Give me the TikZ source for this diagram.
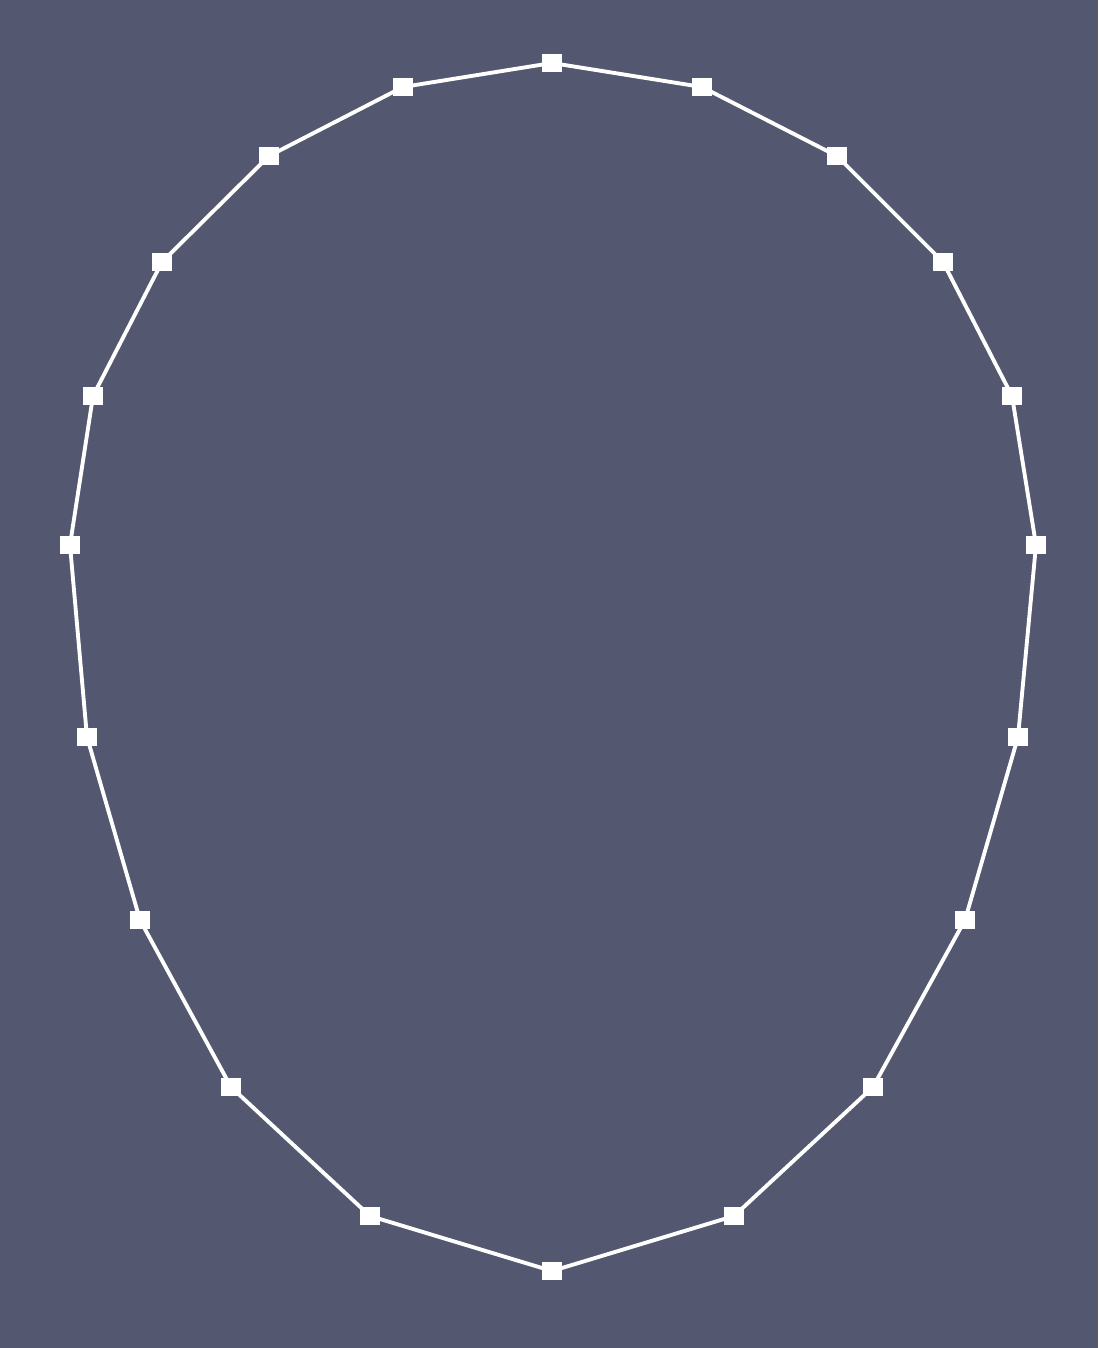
\documentclass[tikz,border=0pt]{standalone}
\definecolor{slatebg}{HTML}{535870}
\tikzset{
  vertex/.style={fill=white, draw=none, minimum width=0.4cm, minimum height=0.36cm, inner sep=0pt},
  edge/.style={white, line width=2.2pt}
}
\begin{document}
\begin{tikzpicture}[x=0.02cm, y=-0.02cm]
        \fill[slatebg] (0,0) rectangle (1098,1348);
        \useasboundingbox (0,0) rectangle (1098,1348);
        % outline points
        \foreach \px/\py [count=\i] in {552/63, 702/87, 837/156, 943/262, 1012/396, 1036/545, 1018/737, 965/920, 873/1087, 734/1216, 552/1271, 370/1216, 231/1087, 140/920, 87/737, 70/545, 93/396, 162/262, 269/156, 403/87}
            \node[vertex] (p\i) at (\px,\py) {};
        \foreach \i in {1,...,20} {
            \pgfmathtruncatemacro{\j}{mod(\i,20)+1}
            \draw[edge] (p\i.center) -- (p\j.center);
        }
        \foreach \i in {1,...,20}
            \fill[white] (p\i.south west) rectangle (p\i.north east);
\end{tikzpicture}
\end{document}
